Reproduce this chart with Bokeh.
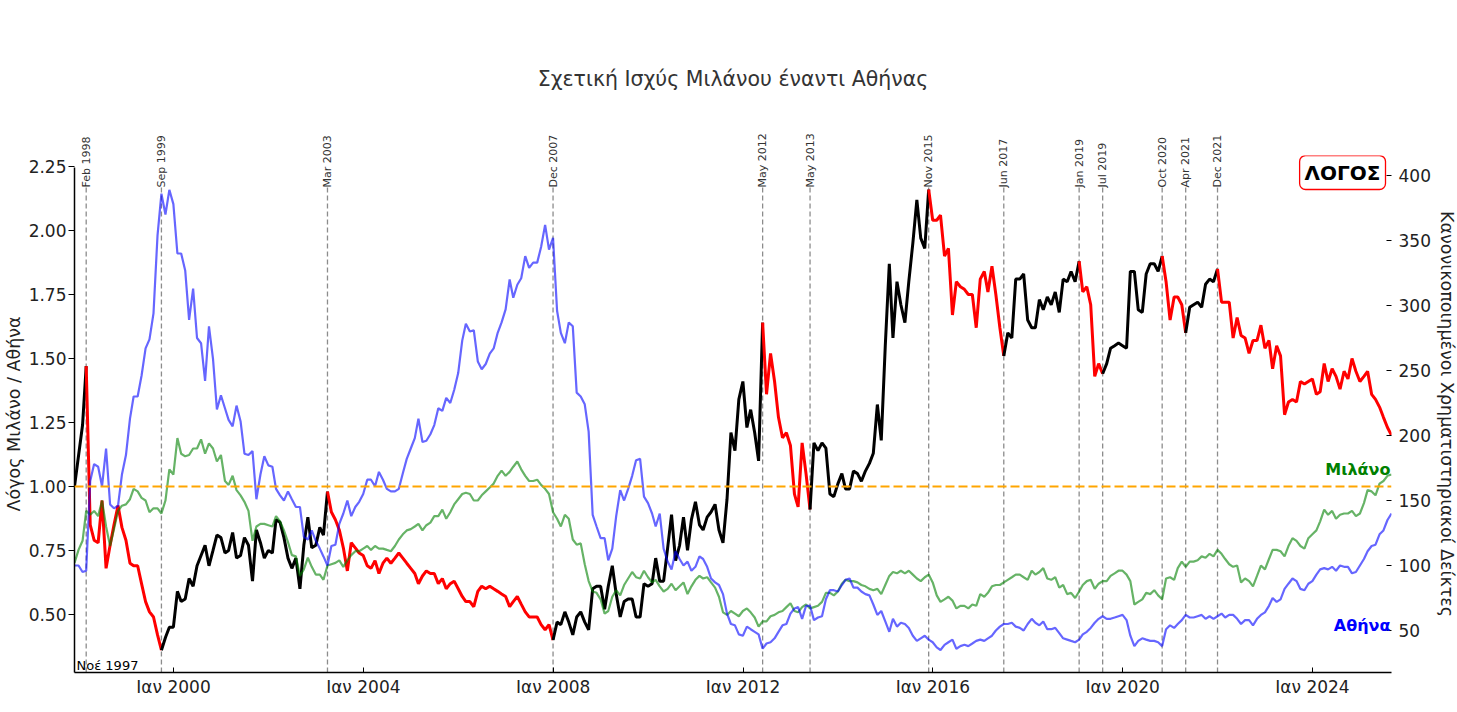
from math import pi
import pandas as pd
from bokeh.plotting import figure
from bokeh.models import (Range1d, LinearAxis, DatetimeAxis, FixedTicker, Label, Span,
                          PrintfTickFormatter)
from bokeh.embed import file_html
from bokeh.resources import INLINE

# ---------------- data (monthly, month-end, from Nov 1997) ----------------
first_month = "1997-11-01"

ratio = [
    1.00, 1.12, 1.24, 1.47, 0.85, 0.79, 0.78, 0.945, 0.68, 0.77, 0.85, 0.925,
    0.84, 0.79, 0.70, 0.69, 0.69, 0.62, 0.55, 0.51, 0.49, 0.42, 0.36, 0.41,
    0.45, 0.45, 0.59, 0.55, 0.56, 0.64, 0.61, 0.69, 0.73, 0.77, 0.69, 0.75,
    0.81, 0.80, 0.74, 0.75, 0.82, 0.72, 0.73, 0.80, 0.77, 0.63, 0.83, 0.78,
    0.72, 0.75, 0.74, 0.87, 0.86, 0.80, 0.72, 0.68, 0.72, 0.60, 0.77, 0.88,
    0.76, 0.77, 0.84, 0.81, 0.98, 0.90, 0.87, 0.83, 0.76, 0.67, 0.78, 0.76,
    0.74, 0.73, 0.69, 0.68, 0.71, 0.66, 0.70, 0.72, 0.70, 0.72, 0.74, 0.72,
    0.70, 0.68, 0.66, 0.62, 0.65, 0.67, 0.66, 0.66, 0.62, 0.64, 0.60, 0.62,
    0.63, 0.60, 0.57, 0.55, 0.55, 0.53, 0.59, 0.61, 0.60, 0.61, 0.60, 0.59,
    0.58, 0.57, 0.53, 0.55, 0.57, 0.54, 0.51, 0.49, 0.49, 0.49, 0.46, 0.44,
    0.46, 0.40, 0.47, 0.46, 0.51, 0.47, 0.42, 0.49, 0.51, 0.47, 0.44, 0.60,
    0.61, 0.61, 0.52, 0.61, 0.69, 0.58, 0.49, 0.55, 0.56, 0.56, 0.49, 0.49,
    0.62, 0.61, 0.62, 0.72, 0.63, 0.63, 0.76, 0.89, 0.71, 0.77, 0.88, 0.75,
    0.87, 0.94, 0.85, 0.83, 0.88, 0.90, 0.93, 0.83, 0.78, 0.95, 1.21, 1.14,
    1.34, 1.41, 1.23, 1.30, 1.21, 1.10, 1.64, 1.36, 1.52, 1.41, 1.27, 1.19,
    1.21, 1.16, 0.97, 0.92, 1.17, 1.05, 0.91, 1.17, 1.14, 1.17, 1.15, 0.97,
    0.96, 1.01, 1.05, 0.99, 0.99, 1.06, 1.05, 1.02, 1.06, 1.09, 1.13, 1.32,
    1.18, 1.55, 1.87, 1.58, 1.80, 1.71, 1.64, 1.80, 1.95, 2.12, 1.97, 1.93,
    2.16, 2.04, 2.04, 2.06, 1.90, 1.93, 1.67, 1.80, 1.78, 1.77, 1.75, 1.75,
    1.62, 1.81, 1.84, 1.76, 1.86, 1.75, 1.62, 1.51, 1.60, 1.58, 1.81, 1.81,
    1.83, 1.65, 1.62, 1.62, 1.73, 1.69, 1.74, 1.71, 1.76, 1.68, 1.81, 1.80,
    1.84, 1.80, 1.88, 1.76, 1.78, 1.71, 1.43, 1.48, 1.44, 1.48, 1.54, 1.55,
    1.56, 1.55, 1.54, 1.84, 1.84, 1.69, 1.68, 1.83, 1.87, 1.87, 1.84, 1.90,
    1.80, 1.65, 1.74, 1.74, 1.71, 1.60, 1.70, 1.71, 1.72, 1.70, 1.79, 1.81,
    1.80, 1.85, 1.72, 1.72, 1.72, 1.58, 1.66, 1.59, 1.58, 1.52, 1.57, 1.57,
    1.63, 1.54, 1.57, 1.46, 1.55, 1.51, 1.28, 1.33, 1.34, 1.33, 1.41, 1.40,
    1.41, 1.42, 1.36, 1.37, 1.48, 1.41, 1.46, 1.43, 1.38, 1.45, 1.42, 1.50,
    1.45, 1.41, 1.43, 1.45, 1.36, 1.34, 1.31, 1.27, 1.23, 1.20,
]

milan = [
    102, 112, 119, 142, 139, 142, 138, 150, 130, 115, 128, 142,
    146, 147, 151, 159, 157, 152, 150, 141, 144, 144, 140, 150,
    174, 170, 198, 186, 184, 185, 190, 190, 197, 186, 194, 190,
    180, 185, 165, 162, 169, 158, 154, 149, 142, 119, 130, 132,
    132, 131, 130, 138, 134, 127, 118, 108, 107, 92, 97, 106,
    99, 93, 93, 89, 100, 101, 102, 104, 99, 104, 108, 111,
    111, 113, 115, 112, 115, 113, 113, 112, 111, 115, 120, 124,
    127, 128, 130, 132, 127, 131, 133, 138, 138, 143, 136, 141,
    147, 151, 155, 156, 155, 150, 150, 154, 157, 160, 163, 169,
    173, 169, 172, 176, 180, 174, 169, 165, 165, 166, 162, 159,
    155, 141, 136, 130, 139, 136, 120, 116, 117, 101, 88, 80,
    79, 74, 63, 65, 76, 81, 77, 85, 90, 95, 91, 90,
    96, 91, 87, 89, 84, 80, 82, 86, 81, 84, 87, 78,
    84, 89, 92, 90, 91, 87, 83, 76, 64, 62, 65, 63,
    61, 65, 67, 64, 60, 53, 57, 57, 61, 62, 64, 65,
    68, 71, 65, 64, 68, 70, 67, 68, 69, 72, 79, 79,
    77, 80, 86, 89, 88, 88, 87, 85, 84, 82, 81, 82,
    78, 85, 92, 95, 94, 96, 94, 96, 93, 90, 88, 91,
    93, 87, 77, 72, 74, 76, 73, 67, 69, 69, 67, 70,
    69, 78, 76, 79, 84, 85, 85, 87, 89, 91, 93, 93,
    91, 89, 96, 93, 95, 98, 90, 89, 91, 83, 85, 78,
    79, 75, 80, 85, 88, 89, 82, 86, 88, 88, 92, 94,
    96, 96, 93, 88, 70, 72, 74, 79, 78, 81, 77, 74,
    90, 91, 89, 98, 103, 99, 103, 103, 104, 107, 106, 109,
    107, 112, 109, 105, 101, 99, 100, 87, 90, 88, 84, 92,
    100, 97, 105, 112, 112, 111, 107, 115, 121, 119, 115, 113,
    121, 124, 127, 134, 143, 139, 142, 136, 139, 140, 140, 142,
    138, 140, 148, 158, 157, 154, 163, 165, 169, 170,
]

athens = [
    100, 100, 95, 96, 165, 178, 176, 161, 190, 147, 144, 146,
    170, 185, 213, 230, 230, 246, 267, 274, 294, 354, 386, 370,
    389, 378, 340, 340, 327, 289, 313, 275, 271, 242, 284, 259,
    220, 231, 221, 212, 207, 223, 211, 186, 185, 188, 151, 170,
    184, 177, 176, 159, 154, 150, 157, 151, 145, 145, 122, 120,
    127, 119, 113, 107, 100, 115, 116, 132, 140, 150, 138, 145,
    149, 155, 166, 166, 161, 172, 166, 159, 157, 157, 159, 171,
    182, 190, 198, 213, 195, 196, 201, 208, 221, 219, 229, 225,
    235, 248, 273, 286, 280, 281, 257, 251, 255, 263, 267, 279,
    287, 297, 320, 306, 316, 321, 338, 329, 333, 333, 345, 362,
    343, 352, 296, 279, 271, 287, 284, 233, 230, 224, 203, 139,
    130, 121, 121, 104, 113, 138, 158, 150, 159, 169, 181, 182,
    153, 148, 140, 130, 140, 113, 103, 97, 111, 105, 100, 103,
    96, 99, 107, 105, 99, 90, 87, 85, 78, 63, 55, 54,
    47, 46, 53, 51, 49, 47, 36, 40, 41, 44, 49, 54,
    55, 63, 67, 68, 59, 69, 69, 58, 60, 61, 74, 81,
    81, 80, 85, 89, 90, 83, 83, 80, 78, 77, 70, 62,
    65, 57, 49, 59, 53, 56, 55, 52, 46, 42, 44, 46,
    43, 41, 37, 35, 39, 41, 43, 36, 38, 39, 38, 40,
    42, 43, 42, 44, 46, 50, 53, 55, 55, 56, 53, 52,
    50, 55, 59, 56, 54, 57, 51, 51, 52, 48, 44, 43,
    42, 41, 43, 47, 49, 52, 56, 59, 61, 59, 59, 60,
    61, 62, 58, 46, 38, 42, 44, 43, 42, 42, 41, 38,
    51, 54, 52, 55, 58, 62, 60, 60, 61, 62, 59, 61,
    59, 61, 63, 60, 62, 62, 59, 55, 58, 58, 54, 59,
    62, 64, 69, 75, 72, 74, 82, 86, 90, 88, 82, 81,
    86, 88, 93, 97, 98, 97, 99, 96, 100, 99, 99, 94,
    95, 100, 105, 111, 115, 116, 124, 127, 135, 140,
]

turning_months = ["1998-02", "1999-09", "2003-03", "2007-12", "2012-05", "2013-05",
                  "2015-11", "2017-06", "2019-01", "2019-07", "2020-10", "2021-04", "2021-12"]
x_tick_years = [2000, 2004, 2008, 2012, 2016, 2020, 2024]
x_tick_prefix = "Ιαν"
left_ticks = [0.50, 0.75, 1.00, 1.25, 1.50, 1.75, 2.00, 2.25]
right_ticks = [50, 100, 150, 200, 250, 300, 350, 400]

# ---------------- build ----------------
n = len(ratio)
dates = pd.date_range(first_month, periods=n, freq="MS") + pd.offsets.MonthEnd(0)
months = [d.strftime("%Y-%m") for d in dates]
turn_idx = [months.index(m) for m in turning_months]
turn_dates = [dates[i] for i in turn_idx]


def ms(ts):
    return pd.Timestamp(ts).value / 1e6


FONT = "DejaVu Sans"
TICK_COLOR = "#222222"
TICK_SIZE = "17px"
Y0, YAX, YTOP = 0.273, 2.246, 2.293   # small headroom above the axis for the ΛΟΓΟΣ box
R0, RAX, RTOP = 17.7, 406.2, 415.4
VTOP = 2.17                            # top of the dashed turning lines
FRAME_H = 517

p = figure(x_axis_type="datetime", frame_width=1317, frame_height=FRAME_H,
           min_border_left=73, min_border_right=66, min_border_top=155, min_border_bottom=38,
           output_backend="svg", toolbar_location=None,
           x_range=Range1d(dates[0], dates[-1]), y_range=Range1d(Y0, YTOP))
p.extra_y_ranges = {"idx": Range1d(R0, RTOP)}
p.outline_line_color = None
p.xgrid.grid_line_color = None
p.ygrid.grid_line_color = None
p.background_fill_color = "white"
p.border_fill_color = "white"

# title
p.title.text = "Σχετική Ισχύς Μιλάνου έναντι Αθήνας"
p.title.align = "center"
p.title.text_font = FONT
p.title.text_font_size = "20.5px"
p.title.text_font_style = "normal"
p.title.text_color = "#333333"
p.title.standoff = 79

# x axis
xa = p.xaxis[0]
tick_ms = [ms(f"{y}-01-01") for y in x_tick_years]
xa.ticker = FixedTicker(ticks=tick_ms)
xa.major_label_overrides = {t: f"{x_tick_prefix} {y}" for t, y in zip(tick_ms, x_tick_years)}
xa.major_tick_in = 5
xa.major_tick_out = 0
xa.minor_tick_line_color = None
xa.axis_line_width = 1.5
xa.axis_line_color = "black"
xa.major_label_standoff = 4
xa.major_label_text_font = FONT
xa.major_label_text_font_size = TICK_SIZE
xa.major_label_text_color = TICK_COLOR

# turning-date labels: a label-only axis above the plot, reaching down to the dashed lines
ta = DatetimeAxis(ticker=FixedTicker(ticks=[ms(d) for d in turn_dates]))
ta.major_label_overrides = {ms(d): d.strftime("%b %Y") for d in turn_dates}
ta.major_label_orientation = pi / 2
ta.axis_line_color = None
ta.major_tick_line_color = None
ta.major_tick_in = 0
ta.major_tick_out = 0
ta.minor_tick_line_color = None
ta.major_label_standoff = -int(round((YTOP - VTOP) / (YTOP - Y0) * FRAME_H)) - 1
ta.major_label_text_font = FONT
ta.major_label_text_font_size = "11px"
ta.major_label_text_color = "#333333"
p.add_layout(ta, "above")

# left axis
ya = p.yaxis[0]
ya.ticker = FixedTicker(ticks=left_ticks)
ya.formatter = PrintfTickFormatter(format="%.2f")
ya.bounds = (Y0, YAX)
ya.major_tick_in = 0
ya.major_tick_out = 6
ya.minor_tick_line_color = None
ya.axis_line_width = 1.5
ya.axis_line_color = "black"
ya.major_label_standoff = 2
ya.major_label_text_font = FONT
ya.major_label_text_font_size = TICK_SIZE
ya.major_label_text_color = TICK_COLOR
ya.axis_label = "Λόγος Μιλάνο / Αθήνα"
ya.axis_label_standoff = 2
ya.axis_label_text_font = FONT
ya.axis_label_text_font_size = "17.5px"
ya.axis_label_text_font_style = "normal"
ya.axis_label_text_color = TICK_COLOR

# right axis
ra = LinearAxis(y_range_name="idx", ticker=FixedTicker(ticks=right_ticks), bounds=(R0, RAX))
ra.axis_line_color = None
ra.major_tick_in = 5
ra.major_tick_out = 0
ra.minor_tick_line_color = None
ra.major_label_standoff = 7
ra.major_label_text_font = FONT
ra.major_label_text_font_size = TICK_SIZE
ra.major_label_text_color = TICK_COLOR
ra.axis_label = "Κανονικοποιημένοι Χρηματιστηριακοί Δείκτες"
ra.axis_label_standoff = 3
ra.axis_label_text_font = FONT
ra.axis_label_text_font_size = "17.5px"
ra.axis_label_text_font_style = "normal"
ra.axis_label_text_color = TICK_COLOR
p.add_layout(ra, "right")

# dashed turning lines
p.segment(x0=turn_dates, y0=[Y0] * len(turn_dates), x1=turn_dates, y1=[VTOP] * len(turn_dates),
          line_color="gray", line_dash="5 3", line_width=1.3, line_alpha=0.9)

# parity line
p.add_layout(Span(location=1.0, dimension="width", line_color="orange",
                  line_dash="9 4", line_width=2))

# ratio line: black when rising, red when falling
bounds = [0] + turn_idx + [n - 1]
for k in range(len(bounds) - 1):
    a, b = bounds[k], bounds[k + 1]
    p.line(x=list(dates[a:b + 1]), y=ratio[a:b + 1],
           line_color="black" if k % 2 == 0 else "red", line_width=3)

# index lines
p.line(x=list(dates), y=milan, y_range_name="idx", line_color="green", line_alpha=0.6, line_width=2.2)
p.line(x=list(dates), y=athens, y_range_name="idx", line_color="blue", line_alpha=0.6, line_width=2.2)

# in-plot texts (screen units: from frame left / frame bottom)
p.add_layout(Label(x=1311, y=500, x_units="screen", y_units="screen",
                   text="ΛΟΓΟΣ", text_align="right", text_baseline="middle",
                   text_font=FONT, text_font_size="20px", text_font_style="bold",
                   text_color="black", background_fill_color="white",
                   border_line_color="red", border_line_width=1.3,
                   padding=5, border_radius=6))
p.add_layout(Label(x=1316, y=203, x_units="screen", y_units="screen",
                   text="Μιλάνο", text_align="right", text_baseline="middle",
                   text_font=FONT, text_font_size="16px", text_font_style="bold",
                   text_color="green"))
p.add_layout(Label(x=1316, y=47, x_units="screen", y_units="screen",
                   text="Αθήνα", text_align="right", text_baseline="middle",
                   text_font=FONT, text_font_size="16px", text_font_style="bold",
                   text_color="blue"))
p.add_layout(Label(x=2, y=7, x_units="screen", y_units="screen",
                   text="Νοέ " + dates[0].strftime("%Y"), text_align="left",
                   text_baseline="middle", text_font=FONT, text_font_size="13px",
                   text_color="black"))

open("out.html", "w").write(file_html(p, INLINE))
